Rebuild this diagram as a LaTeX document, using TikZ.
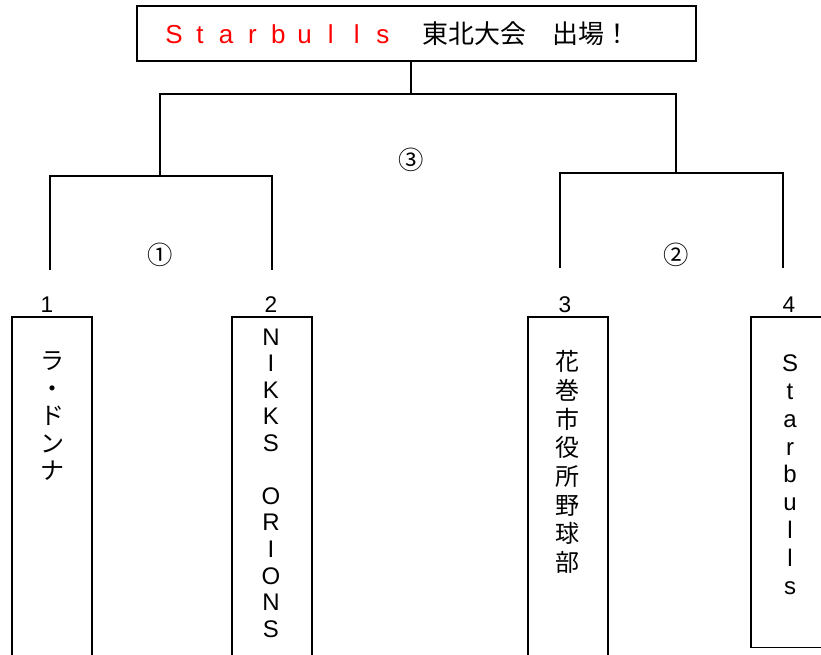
\documentclass[tikz,border=0pt]{standalone}
\usepackage{fontspec}
\setmainfont{Noto Sans CJK JP}
\newfontfamily\latinfont{Liberation Sans}
\usetikzlibrary{positioning}

\tikzset{
  teambox/.style={draw, line width=1.3pt, minimum width=60pt, anchor=north, inner sep=0pt},
  teamname/.style={anchor=north, align=center, inner sep=0pt},
  seed/.style={font=\latinfont\fontsize{17}{19}\selectfont, inner sep=0pt},
  game/.style={font=\fontsize{19}{21}\selectfont, inner sep=0pt}
}

\begin{document}
\begin{tikzpicture}[x=0.75pt, y=-0.75pt, line width=1.1pt]
        \path[use as bounding box, clip] (0,0) rectangle (821,654);

        % title
        \node[draw, line width=1.5pt, minimum width=419pt, minimum height=41pt, inner sep=0pt,
              font=\fontsize{19.5}{22}\selectfont] (title) at (416.5,33.5)
              {\textcolor{red}{\latinfont\foreach \c in {S,t,a,r,b,u,l,l,s}{\makebox[19.6pt]{\c}}}%
               　東北大会　出場！\hspace*{31.5pt}};

        \coordinate (m3) at (411,94);
        \coordinate (m1) at (160,176);
        \coordinate (m2) at (676,173);
        \coordinate (e1) at (50,270);
        \coordinate (e2) at (272,270);
        \coordinate (e3) at (560,268);
        \coordinate (e4) at (783,268);

        \draw (title.south -| m3) -- (m3);
        \draw (m1) -- (m1 |- m3) -- (m2 |- m3) -- (m2);
        \draw (e1) -- (e1 |- m1) -- (e2 |- m1) -- (e2);
        \draw (e3) -- (e3 |- m2) -- (e4 |- m2) -- (e4);

        \node[game] (g3) at (411,160) {③};
        \node[game] (g1) at (160,255) {①};
        \node[game] (g2) at (676,255) {②};

        % seeds
        \node[seed] (s1) at (47,305) {1};
        \node[seed] (s2) at (271,305) {2};
        \node[seed] (s3) at (565,305) {3};
        \node[seed] (s4) at (789,305) {4};

        % teams
        \node[teambox, minimum height=270pt] (b1) at (52,316) {};
        \node[teambox, minimum height=270pt] (b2) at (272,316) {};
        \node[teambox, minimum height=270pt] (b3) at (568,316) {};
        \node[teambox, minimum height=248pt] (b4) at (791,316) {};

        \node[teamname, font=\fontsize{18}{20.6}\selectfont] (t1) at (52,351)
              {ラ\\・\\ド\\ン\\ナ};
        \node[teamname, font=\latinfont\fontsize{18}{19.9}\selectfont] (t2) at (271,328)
              {N\\I\\K\\K\\S\\\mbox{}\\O\\R\\I\\O\\N\\S};
        \node[teamname, font=\fontsize{18}{21.5}\selectfont] (t3) at (567,350)
              {花\\巻\\市\\役\\所\\野\\球\\部};
        \node[teamname, font=\latinfont\fontsize{18}{20.9}\selectfont] (t4) at (790,354)
              {S\\t\\a\\r\\b\\u\\l\\l\\s};
\end{tikzpicture}
\end{document}
